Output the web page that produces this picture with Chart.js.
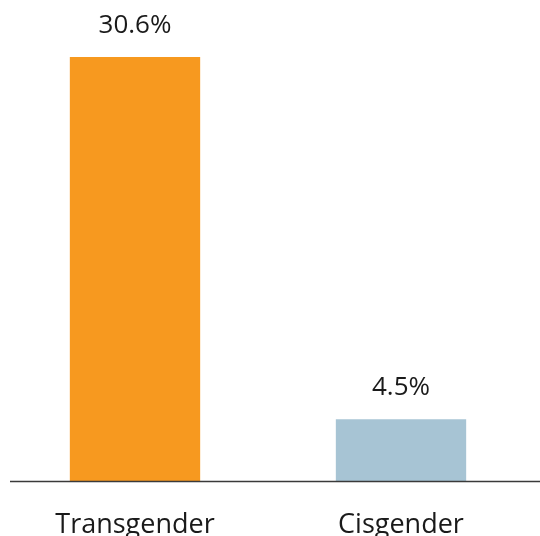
<!DOCTYPE html>
<html>
<head>
<meta charset="utf-8">
<script src="https://cdn.jsdelivr.net/npm/chart.js@4"></script>
<style>
	html, body { margin: 0; padding: 0; background: #fff; }
	#wrap { width: 540px; height: 536px; }
</style>
</head>
<body>
<div id="wrap"><canvas id="genderChart"></canvas></div>
<script>
const categories = ["Transgender", "Cisgender"]
const values = [30.6, 4.5]
const valueLabels = ["30.6%", "4.5%"]
const barColors = ["#F7991F", "#A7C4D4"]

// ligne de base + étiquettes au-dessus des barres
const extras = {
	id: "extras",
	afterDatasetsDraw(chart) {
		const ctx = chart.ctx
		const y0 = chart.scales.y.getPixelForValue(0)
		ctx.save()
		ctx.strokeStyle = "#3a3a3a"
		ctx.lineWidth = 1.5
		ctx.beginPath()
		ctx.moveTo(10, y0)
		ctx.lineTo(chart.width, y0)
		ctx.stroke()

		ctx.fillStyle = "#1a1a1a"
		ctx.font = "26px 'Open Sans'"
		ctx.textAlign = "center"
		ctx.textBaseline = "alphabetic"
		chart.getDatasetMeta(0).data.forEach((bar, i) => {
			ctx.fillText(valueLabels[i], bar.x, bar.y - 24)
		})
		ctx.restore()
	}
}

const genderChart = new Chart(
	document.getElementById("genderChart"),
	{
		type: "bar",
		data: {
			labels: categories,
			datasets: [{
				data: values,
				backgroundColor: barColors,
				borderWidth: 0,
				categoryPercentage: 1,
				barPercentage: 0.49
			}]
		},
		options: {
			responsive: true,
			maintainAspectRatio: false,
			animation: false,
			layout: {
				padding: { left: 2, right: 6, top: 57, bottom: -26 }
			},
			plugins: {
				legend: { display: false },
				tooltip: { enabled: false }
			},
			scales: {
				x: {
					grid: { display: false },
					border: { display: false },
					ticks: {
						color: "#1a1a1a",
						padding: 20,
						font: { family: "'Open Sans'", size: 27 }
					}
				},
				y: {
					display: false,
					min: 0,
					max: 30.6
				}
			}
		},
		plugins: [extras]
	}
)
</script>
</body>
</html>
